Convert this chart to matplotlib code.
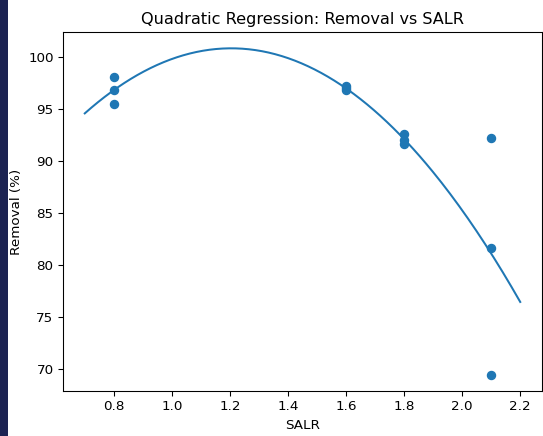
import numpy as np
import matplotlib.pyplot as plt
from matplotlib.patches import Rectangle

# Replicate measurements of removal at each SALR level
salr = [0.8, 0.8, 0.8, 1.6, 1.6, 1.6, 1.8, 1.8, 1.8, 2.1, 2.1, 2.1]
removal = [98.1, 96.8, 95.5, 97.2, 97.0, 96.8, 92.6, 92.0, 91.6, 92.2, 81.7, 69.5]

# Range over which the fitted curve is drawn
fit_range = [0.7, 2.2]

DPI = 97
fig = plt.figure(figsize=(543 / DPI, 436 / DPI), dpi=DPI)
ax = fig.add_axes([63 / 543, 45 / 436, 479 / 543, 359 / 436])

# Second-order polynomial fit
coeffs = np.polyfit(salr, removal, 2)
x_fit = np.linspace(fit_range[0], fit_range[1], 200)
y_fit = np.polyval(coeffs, x_fit)
print("coefficients:", coeffs)
print("vertex x:", -coeffs[1] / (2 * coeffs[0]), "max:", np.max(y_fit))

ax.scatter(salr, removal)
ax.plot(x_fit, y_fit)
ax.set_xlabel('SALR')
ax.set_ylabel('Removal (%)')
ax.set_title('Quadratic Regression: Removal vs SALR')

# dark strip along the left edge of the figure
fig.patches.append(Rectangle((0, 0), 8 / 543, 1, transform=fig.transFigure,
                             facecolor='#1c2352', edgecolor='none', zorder=10))

fig.savefig('out.png', dpi=DPI)
